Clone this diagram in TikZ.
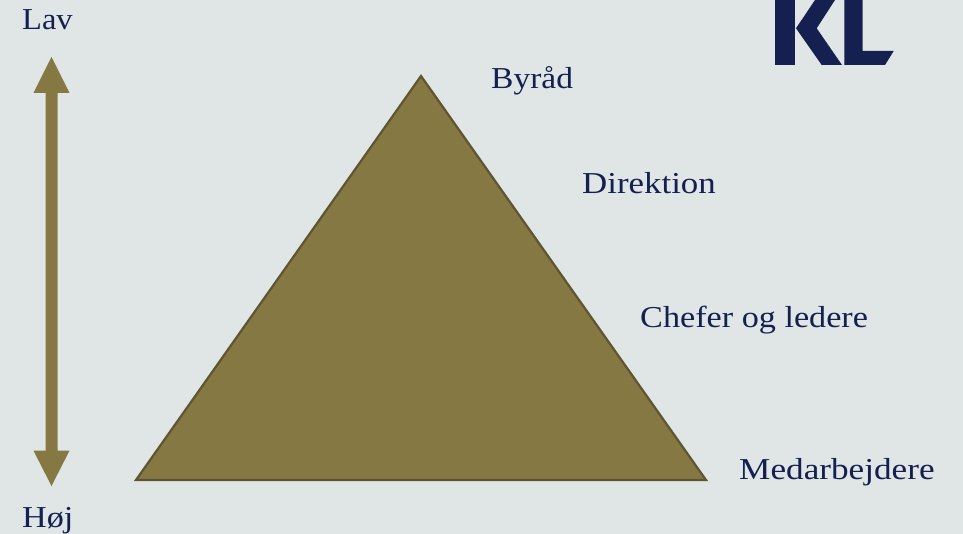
\documentclass[tikz,border=0pt]{standalone}
\usepackage{fontspec}
\setmainfont[FakeStretch=1.125]{Liberation Serif}
\definecolor{bgc}{HTML}{E0E6E6}
\definecolor{navy}{HTML}{14204F}
\definecolor{olive}{HTML}{857843}
\definecolor{olivedark}{HTML}{5F5530}
\tikzset{lbl/.style={text=navy,font=\fontsize{30.5}{36}\selectfont,inner sep=0pt,anchor=base west,transform shape}}
\begin{document}
\begin{tikzpicture}[x=1bp,y=-1bp]
\useasboundingbox (0,0) rectangle (963,534);
\fill[bgc] (0,0) rectangle (963,534);
% logo
\begin{scope}
\clip (0,0) rectangle (963,534);
\fill[navy] (775,0) -- (795,0) -- (795,65) -- (775,65) -- cycle;
\fill[navy] (815,0) -- (835,0) -- (816.7,28.3) -- (842,65) -- (821.7,65) -- (796,28.3) -- cycle;
\fill[navy] (844.3,0) -- (862.7,0) -- (862.7,51) -- (893.7,51) -- (885,65) -- (844.3,65) -- cycle;
\end{scope}
% arrow
\fill[olive] (51.5,57) -- (69.5,93) -- (57.5,93) -- (57.5,450.7) -- (69.5,450.7) -- (51.5,486) -- (33.5,450.7) -- (45.5,450.7) -- (45.5,93) -- (33.5,93) -- cycle;
% triangle
\draw[fill=olive,draw=olivedark,line width=2.2bp,line join=miter] (421,76) -- (706,480) -- (136,480) -- cycle;
\node[lbl,xscale=0.95] (lav) at (22,30) {Lav};
\node[lbl] (hoj) at (22,527) {Høj};
\node[lbl,xscale=0.98] (byraad) at (491,88.3) {Byråd};
\node[lbl,xscale=1.02] (dir) at (582,194) {Direktion};
\node[lbl] (chef) at (640,328) {Chefer og ledere};
\node[lbl,xscale=1.03] (med) at (739,479) {Medarbejdere};
\end{tikzpicture}
\end{document}
